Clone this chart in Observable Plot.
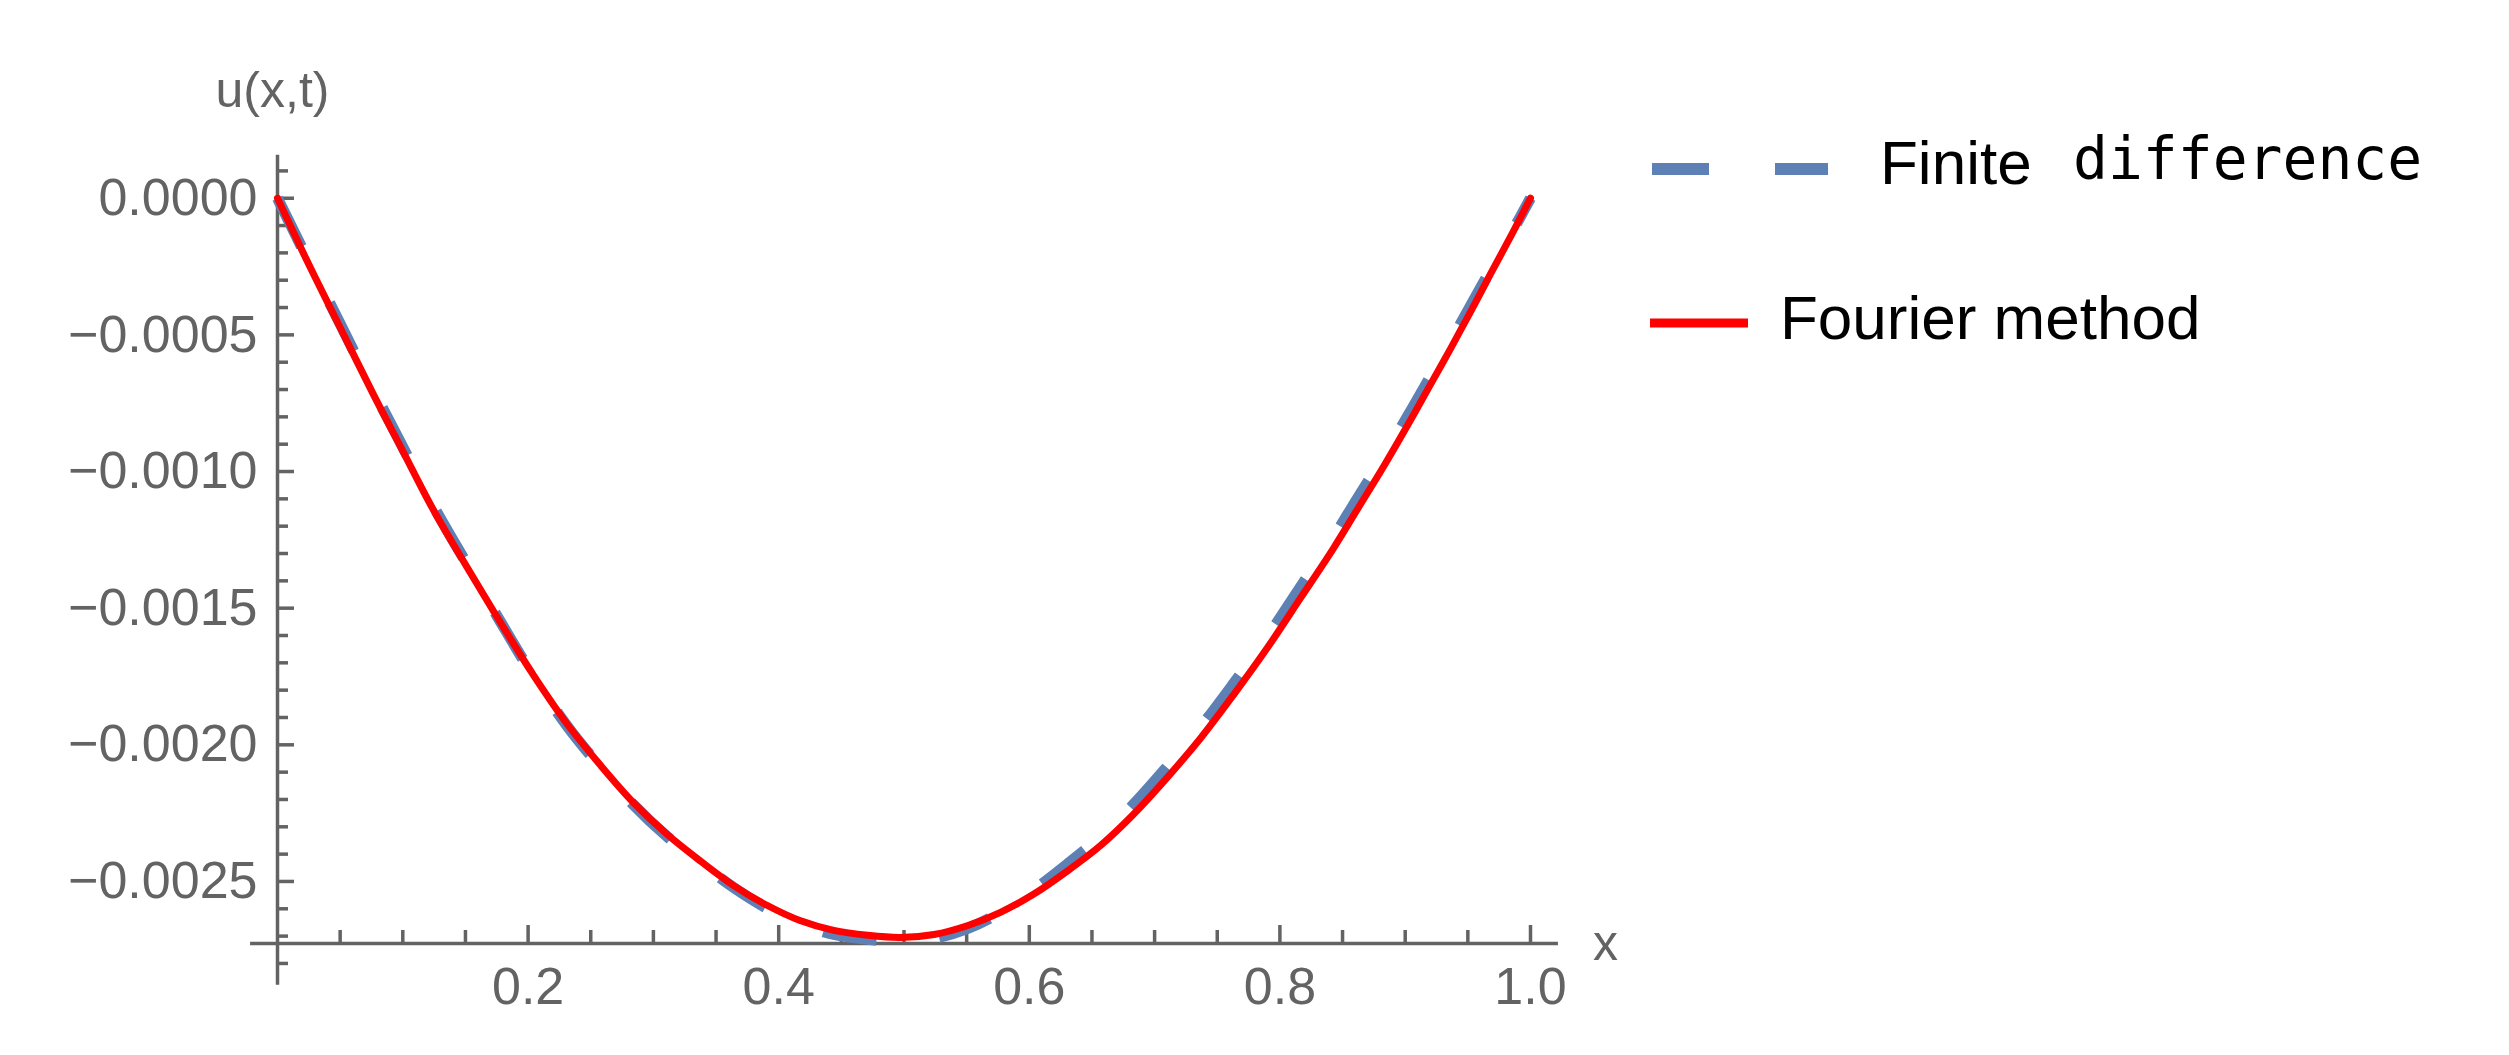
<!DOCTYPE html>
<html><head><meta charset="utf-8">
<script src="https://cdn.jsdelivr.net/npm/d3@7"></script>
<script src="https://cdn.jsdelivr.net/npm/@observablehq/plot@0.6"></script>
<style>
html,body{margin:0;padding:0;background:#fff;}
#wrap{position:relative;width:2509px;height:1055px;overflow:hidden;}
#legend{position:absolute;left:0;top:0;pointer-events:none;}
</style></head><body>
<div id="wrap"><div id="chart"></div><svg id="legend" width="2509" height="1055"></svg></div>
<script>
// ---- data ----
const xs = [0, 0.026, 0.049, 0.076, 0.1, 0.124, 0.152, 0.178, 0.204, 0.231, 0.258, 0.284, 0.311, 0.338, 0.364, 0.391, 0.417, 0.444, 0.471, 0.497, 0.524, 0.551, 0.577, 0.603, 0.63, 0.657, 0.683, 0.71, 0.737, 0.763, 0.79, 0.816, 0.843, 0.862, 0.883, 0.902, 0.92, 0.936, 0.952, 0.968, 0.986, 1.0];
const fourier = [0, -0.000252, -0.000464, -0.000713, -0.000925, -0.001137, -0.001356, -0.001553, -0.001743, -0.001923, -0.002076, -0.002211, -0.002328, -0.002427, -0.002515, -0.002588, -0.002643, -0.002679, -0.002697, -0.002705, -0.002694, -0.002661, -0.002613, -0.002548, -0.002463, -0.002368, -0.002255, -0.00212, -0.001974, -0.001817, -0.001645, -0.001466, -0.001279, -0.001137, -0.00098, -0.00083, -0.000683, -0.000552, -0.000417, -0.000278, -0.000124, 0];
const finiteDiff = [0, -0.000241, -0.00045, -0.000698, -0.00091, -0.001122, -0.001345, -0.00155, -0.001747, -0.00193, -0.002083, -0.002219, -0.002336, -0.002434, -0.002522, -0.002599, -0.002654, -0.002694, -0.002712, -0.002719, -0.002708, -0.002672, -0.002613, -0.002533, -0.002438, -0.002336, -0.002219, -0.00208, -0.001933, -0.001776, -0.001605, -0.001425, -0.001239, -0.001097, -0.000943, -0.000797, -0.000654, -0.000526, -0.000395, -0.000263, -0.000117, 0];
const seriesNames = ["Finite difference", "Fourier method"];
const seriesColors = ["#5E81B5", "#FF0000"];
const xMajorTicks = [0.2, 0.4, 0.6, 0.8, 1.0];
const xMinorTicks = [0.05, 0.1, 0.15, 0.25, 0.3, 0.35, 0.45, 0.5, 0.55, 0.65, 0.7, 0.75, 0.85, 0.9, 0.95];
const yMajorTicks = [0, -0.0005, -0.001, -0.0015, -0.002, -0.0025];
const yMinorTicks = [0.0001, -0.0001, -0.0002, -0.0003, -0.0004, -0.0006, -0.0007, -0.0008, -0.0009, -0.0011, -0.0012, -0.0013, -0.0014, -0.0016, -0.0017, -0.0018, -0.0019, -0.0021, -0.0022, -0.0023, -0.0024, -0.0026, -0.0027, -0.0028];
const axisOriginY = -0.002727;
const xDomain = [0, 1];
const yDomain = [axisOriginY, 0.00016];
const xAxisExtent = [-0.0215, 1.0223];
const yAxisExtent = [-0.00288, 0.000157];
const yLabel = "u(x,t)";
const xLabel = "x";

const fd = xs.map((x, i) => ({x, y: finiteDiff[i]}));
const fm = xs.map((x, i) => ({x, y: fourier[i]}));

const axisColor = "#636363";
const font = "'Liberation Sans', Arial, sans-serif";
const yFmt = d => (d < 0 ? "\u2212" : "") + Math.abs(d).toFixed(4);

const chart = Plot.plot({
  width: 2509,
  height: 1055,
  marginLeft: 277,
  marginRight: 979,
  marginTop: 154,
  marginBottom: 112,
  style: {fontFamily: font, background: "#fff", overflow: "visible"},
  x: {domain: xDomain, axis: null},
  y: {domain: yDomain, axis: null},
  marks: [
    Plot.ruleY([axisOriginY], {x1: xAxisExtent[0], x2: xAxisExtent[1], stroke: axisColor, strokeWidth: 3.5}),
    Plot.ruleX([0], {y1: yAxisExtent[0], y2: yAxisExtent[1], stroke: axisColor, strokeWidth: 3.5}),
    Plot.axisX({ticks: xMajorTicks, tickSize: -18, tickFormat: () => "", stroke: axisColor, strokeWidth: 3.5, label: null}),
    Plot.axisX({ticks: xMinorTicks, tickSize: -13, tickFormat: () => "", stroke: axisColor, strokeWidth: 3.5, label: null}),
    Plot.axisX({ticks: xMajorTicks, tickSize: 0, tickPadding: 24, tickFormat: d => d.toFixed(1), fill: axisColor, fontSize: 52, label: null}),
    Plot.axisY({ticks: yMajorTicks, tickSize: -17, tickFormat: () => "", stroke: axisColor, strokeWidth: 3.5, label: null}),
    Plot.axisY({ticks: yMinorTicks, tickSize: -11, tickFormat: () => "", stroke: axisColor, strokeWidth: 3.5, label: null}),
    Plot.axisY({ticks: yMajorTicks, tickSize: 0, tickPadding: 20, tickFormat: yFmt, fill: axisColor, fontSize: 52, label: null}),
    Plot.text([yLabel], {frameAnchor: "top-left", dx: -5, dy: -64, textAnchor: "middle", lineAnchor: "middle", fontSize: 50, fill: axisColor}),
    Plot.text([xLabel], {frameAnchor: "bottom-right", dx: 75, dy: 0, textAnchor: "middle", lineAnchor: "middle", fontSize: 50, fill: axisColor}),
    Plot.line(fd, {x: "x", y: "y", stroke: seriesColors[0], strokeWidth: 11, strokeDasharray: "54,63", strokeLinecap: "butt", curve: "catmull-rom"}),
    Plot.line(fm, {x: "x", y: "y", stroke: seriesColors[1], strokeWidth: 7, curve: "catmull-rom"})
  ]
});
document.getElementById("chart").appendChild(chart);

// ---- legend (HTML-level svg overlay) ----
const lg = d3.select("#legend");
lg.append("line").attr("x1", 1652).attr("x2", 1828).attr("y1", 169).attr("y2", 169)
  .attr("stroke", seriesColors[0]).attr("stroke-width", 12).attr("stroke-dasharray", "57,66");
const words0 = seriesNames[0].split(" ");
lg.append("text").attr("x", 1880).attr("y", 184).attr("font-family", font).attr("font-size", 62).attr("fill", "#000").text(words0[0]);
lg.append("text").attr("x", 2073).attr("y", 179).attr("font-family", "'DejaVu Sans Mono', monospace").attr("font-size", 58).attr("fill", "#000").text(words0[1]);
lg.append("line").attr("x1", 1650).attr("x2", 1748).attr("y1", 323).attr("y2", 323)
  .attr("stroke", seriesColors[1]).attr("stroke-width", 9);
lg.append("text").attr("x", 1780).attr("y", 339).attr("font-family", font).attr("font-size", 62).attr("fill", "#000").text(seriesNames[1]);
</script>
</body></html>
